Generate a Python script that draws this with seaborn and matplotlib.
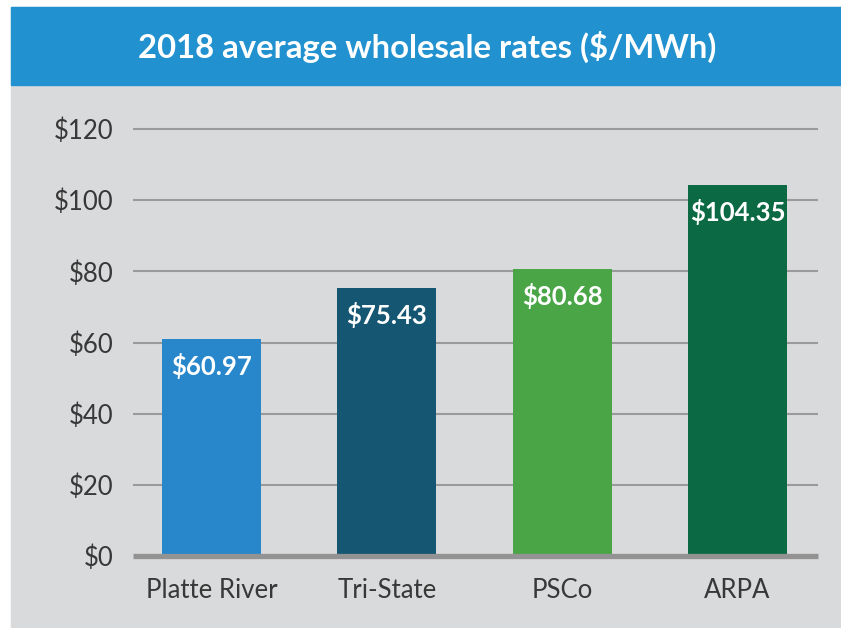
import matplotlib
matplotlib.use("Agg")
import matplotlib.pyplot as plt
import seaborn as sns
import pandas as pd
from matplotlib.patches import Rectangle

# data
providers = ["Platte River", "Tri-State", "PSCo", "ARPA"]
rates = [60.97, 75.43, 80.68, 104.35]
bar_colors = ["#2887CB", "#155672", "#49A546", "#0B6943"]
y_ticks = [0, 20, 40, 60, 80, 100, 120]
title = "2018 average wholesale rates ($/MWh)"

df = pd.DataFrame({"provider": providers, "rate": rates})

sns.set_theme(style="white")
plt.rcParams["font.family"] = ["Lato", "DejaVu Sans"]

W, H = 841, 628
fig = plt.figure(figsize=(W / 100, H / 100), dpi=100)
fig.patch.set_facecolor("white")

# gray panel and blue title banner (behind the axes)
fig.patches.append(Rectangle((11 / W, 0), 1 - 11 / W, 1 - 7 / H,
                             transform=fig.transFigure, color="#D9DADC", zorder=-2))
fig.patches.append(Rectangle((11 / W, 1 - 85 / H), 1 - 11 / W, 78 / H,
                             transform=fig.transFigure, color="#2191CF", zorder=-1))
fig.text(0.508, 1 - 47 / H, title, color="white", fontsize=23.7, fontweight="bold",
         ha="center", va="center")

ax = fig.add_axes([133 / W, 72 / H, (818 - 133) / W, (556 - 129) / H])
ax.set_facecolor("none")

sns.barplot(data=df, x="provider", y="rate", hue="provider", palette=bar_colors,
            width=0.565, legend=False, saturation=1, linewidth=0, ax=ax, zorder=3)

for y in y_ticks[1:]:
    ax.axhline(y, color="#9A9A9A", lw=1.5, zorder=1, clip_on=False,
               solid_capstyle="butt")
ax.axhline(0, color="#939393", lw=3.8, zorder=4, clip_on=False, solid_capstyle="butt")

for i, v in enumerate(rates):
    ax.text(i, v - 7.6, f"${v:.2f}", color="white", fontsize=18.5, fontweight="bold",
            ha="center", va="center", zorder=5)

ax.set_ylim(0, 120)
ax.set_xlim(-0.448, 3.459)
ax.set_yticks(y_ticks)
ax.set_yticklabels([f"${t}" for t in y_ticks])
ax.set_xlabel("")
ax.set_ylabel("")
ax.tick_params(axis="both", length=0, labelsize=18.5, labelcolor="#383838")
ax.tick_params(axis="y", pad=14)
ax.tick_params(axis="x", pad=15.5)
for s in ax.spines.values():
    s.set_visible(False)

fig.savefig("out.png", dpi=100, facecolor=fig.get_facecolor())
